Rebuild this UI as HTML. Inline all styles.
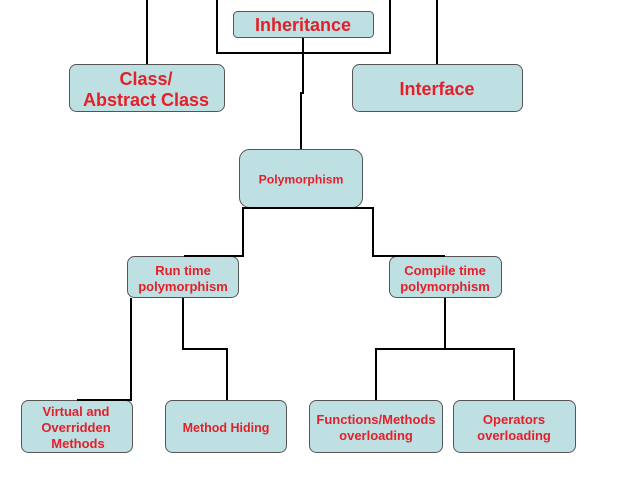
<!DOCTYPE html>
<html>
<head>
<meta charset="utf-8">
<style>
  html, body { margin: 0; padding: 0; background: #ffffff; }
  body { width: 640px; height: 480px; overflow: hidden; }
  svg { display: block; }
  text { font-family: "Liberation Sans", Arial, sans-serif; font-weight: bold; fill: #e3202a; text-anchor: middle; }
</style>
</head>
<body>
<svg width="640" height="480" viewBox="0 0 640 480" xmlns="http://www.w3.org/2000/svg">
  <rect x="0" y="0" width="640" height="480" fill="#ffffff"/>

  <!-- connectors -->
  <g fill="none" stroke="#000" stroke-width="2" stroke-linejoin="miter">
    <path d="M147 0 V64"/>
    <path d="M437 0 V64"/>
    <path d="M217 0 V53 H390 V0"/>
    <path d="M303 37 V93 H301 V149"/>
  </g>

  <!-- boxes -->
  <g fill="#bfe0e3" stroke="#555" stroke-width="1">
    <rect x="233.5" y="11.5" width="140" height="26" rx="4"/>
    <rect x="69.5" y="64.5" width="155" height="47" rx="7"/>
    <rect x="352.5" y="64.5" width="170" height="47" rx="7"/>
    <rect x="239.5" y="149.5" width="123" height="58" rx="10"/>
    <rect x="127.5" y="256.5" width="111" height="41" rx="7"/>
    <rect x="389.5" y="256.5" width="112" height="41" rx="7"/>
    <rect x="21.5" y="400.5" width="111" height="52" rx="7"/>
    <rect x="165.5" y="400.5" width="121" height="52" rx="7"/>
    <rect x="309.5" y="400.5" width="133" height="52" rx="7"/>
    <rect x="453.5" y="400.5" width="122" height="52" rx="7"/>
  </g>

  <!-- lower connectors -->
  <g fill="none" stroke="#000" stroke-width="2" stroke-linejoin="miter">
    <path d="M184 256 H243 V208 H373 V256 H445"/>
    <path d="M131 298 V400 H77"/>
    <path d="M183 298 V349 H227 V400"/>
    <path d="M445 298 V349"/>
    <path d="M376 400 V349 H514 V400"/>
  </g>

  <!-- labels -->
  <text x="303" y="31" font-size="18">Inheritance</text>
  <text x="146" y="85" font-size="18">Class/</text>
  <text x="146" y="106" font-size="18">Abstract Class</text>
  <text x="437" y="95" font-size="18">Interface</text>
  <text x="301" y="183.5" font-size="12.2">Polymorphism</text>
  <text x="183" y="275" font-size="13">Run time</text>
  <text x="183" y="291" font-size="13">polymorphism</text>
  <text x="445" y="275" font-size="13">Compile time</text>
  <text x="445" y="291" font-size="13">polymorphism</text>
  <text x="76" y="416" font-size="13">Virtual and</text>
  <text x="76" y="432" font-size="13">Overridden</text>
  <text x="78" y="448" font-size="13">Methods</text>
  <text x="226" y="432" font-size="12.5">Method Hiding</text>
  <text x="376" y="424" font-size="13">Functions/Methods</text>
  <text x="376" y="440" font-size="13">overloading</text>
  <text x="514" y="424" font-size="13">Operators</text>
  <text x="514" y="440" font-size="13">overloading</text>
</svg>
</body>
</html>
